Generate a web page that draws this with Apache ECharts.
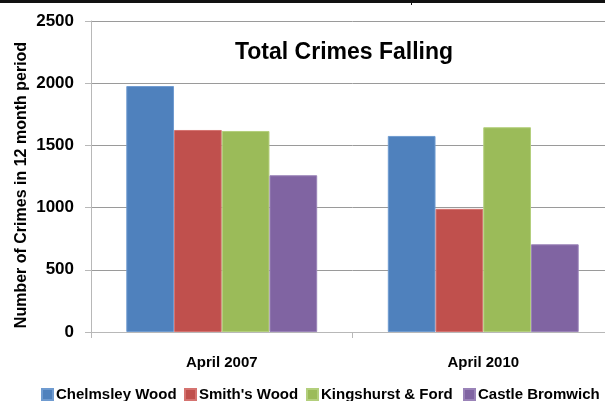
<!DOCTYPE html>
<html>
<head>
<meta charset="utf-8">
<script src="https://cdn.jsdelivr.net/npm/echarts@6/dist/echarts.min.js"></script>
<style>
  html, body { margin: 0; padding: 0; background: #fff; overflow: hidden; }
  /* the plot area runs slightly past the right edge of the window */
  #chart { width: 620px; height: 401px; }
</style>
</head>
<body>
<div id="chart"></div>
<script>
// Recorded crime totals per 12-month period, by neighbourhood
const periods = ['April 2007', 'April 2010'];
const areaNames = ['Chelmsley Wood', "Smith's Wood", 'Kingshurst & Ford', 'Castle Bromwich'];
const chelmsleyWood = [1977, 1576];
const smithsWood = [1624, 990];
const kingshurstFord = [1616, 1646];
const castleBromwich = [1260, 705];
const yTicks = [0, 500, 1000, 1500, 2000, 2500];

const palette = ['#4F81BD', '#C0504D', '#9BBB59', '#8064A2'];
const edges = ['#6f9bd0', '#d57370', '#b3cf7c', '#9a83b8'];
const FONT = '"Liberation Sans", Arial, sans-serif';
const legendLeft = [41, 184, 306, 463];

const seriesValues = [chelmsleyWood, smithsWood, kingshurstFord, castleBromwich];

const chart = echarts.init(document.getElementById('chart'), null, { renderer: 'canvas' });

chart.setOption({
  animation: false,
  backgroundColor: '#ffffff',
  textStyle: { fontFamily: FONT },
  title: {
    text: 'Total Crimes Falling',
    left: 339,
    top: 36,
    textAlign: 'center',
    textStyle: { fontFamily: FONT, fontWeight: 'bold', fontSize: 23, color: '#000' }
  },
  grid: { left: 91, top: 21, width: 523, height: 311, containLabel: false },
  // one legend block per area so each entry sits at its own offset
  legend: areaNames.map((name, i) => ({
    data: [name],
    left: legendLeft[i],
    top: 387,
    padding: 0,
    itemWidth: 11,
    itemHeight: 11,
    icon: 'rect',
    textStyle: { fontFamily: FONT, fontWeight: 'bold', fontSize: 15, color: '#000', padding: [0, 0, 0, -2] }
  })),
  xAxis: {
    type: 'category',
    data: periods,
    axisLine: { show: true, lineStyle: { color: '#b8b8b8', width: 1 } },
    axisTick: { show: true, alignWithLabel: false, length: 6, lineStyle: { color: '#b8b8b8' } },
    axisLabel: { margin: 23, fontFamily: FONT, fontWeight: 'bold', fontSize: 15, color: '#000' },
    splitLine: { show: false }
  },
  yAxis: {
    type: 'value',
    min: yTicks[0],
    max: yTicks[yTicks.length - 1],
    interval: yTicks[1] - yTicks[0],
    axisLine: { show: true, lineStyle: { color: '#b8b8b8', width: 1 } },
    axisTick: { show: true, length: 6, lineStyle: { color: '#b8b8b8' } },
    axisLabel: {
      margin: 17,
      fontFamily: FONT, fontWeight: 'bold', fontSize: 17, color: '#000',
      formatter: (v) => String(v)
    },
    splitLine: { show: true, lineStyle: { color: '#9a9a9a', width: 1 } }
  },
  series: areaNames.map((name, i) => ({
    name: name,
    type: 'bar',
    data: seriesValues[i],
    barGap: '0%',
    barCategoryGap: '27%',
    itemStyle: { color: palette[i], borderColor: edges[i], borderWidth: 1 }
  })),
  graphic: [
    {
      type: 'text',
      x: 22,
      y: 185,
      rotation: Math.PI / 2,
      style: {
        text: 'Number of Crimes in 12 month period',
        fontFamily: FONT,
        fontWeight: 'bold',
        fontSize: 16,
        fill: '#000',
        align: 'center',
        verticalAlign: 'middle'
      }
    },
    {
      type: 'line',
      shape: { x1: 0, y1: 1.5, x2: 620, y2: 1.5 },
      style: { stroke: '#111', lineWidth: 3 }
    },
    {
      type: 'line',
      shape: { x1: 411.5, y1: 0, x2: 411.5, y2: 5 },
      style: { stroke: '#111', lineWidth: 1 }
    }
  ]
});
</script>
</body>
</html>
